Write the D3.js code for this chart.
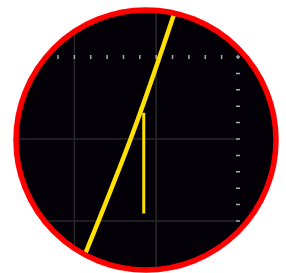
<!DOCTYPE html>
<html>
<head>
<meta charset="utf-8">
<script src="https://cdn.jsdelivr.net/npm/d3@7"></script>
<style>
	body{margin:0;background:#fff;}
	svg{display:block;}
</style>
</head>
<body>
<div id="scope"></div>
<script>
(function(){
	var w = 286, h = 273;

	// 目盛り (division units)
	var xTicks = [0,1,2,3,4,5,6,7,8,9,10,11];
	var yTicks = [0,1,2,3,4,5,6,7,8,9,10];
	var xGrid = [1,6];
	var yGrid = [0,5];

	// trace
	var traceX = [7.32, 4.55, 1.46];
	var traceY = [13.3, 5.3, -2.5];

	// marker line
	var markerX = [5.24, 5.24];
	var markerY = [0.45, 6.6];

	var x = d3.scaleLinear().domain([0,11]).range([58,238]);
	var y = d3.scaleLinear().domain([0,10]).range([221,57]);

	var cx = 146, cy = 140, r = 130;

	var svg = d3.select("#scope")
				.append("svg")
				.attr("width", w)
				.attr("height", h);

	svg.append("clipPath")
		.attr("id", "clip")
		.append("circle")
		.attr("cx", cx)
		.attr("cy", cy)
		.attr("r", r-1);

	svg.append("circle")
		.attr("cx", cx)
		.attr("cy", cy)
		.attr("r", r)
		.attr("fill", "#040008");

	var g = svg.append("g").attr("clip-path", "url(#clip)");

	// grid
	g.selectAll(".vgrid")
		.data(xGrid)
		.enter()
		.append("line")
		.attr("x1", function(d){ return x(d); })
		.attr("x2", function(d){ return x(d); })
		.attr("y1", 0)
		.attr("y2", h)
		.attr("stroke", "#29272b")
		.attr("stroke-width", 1.5);

	g.selectAll(".hgrid")
		.data(yGrid)
		.enter()
		.append("line")
		.attr("x1", 0)
		.attr("x2", x(11))
		.attr("y1", function(d){ return y(d); })
		.attr("y2", function(d){ return y(d); })
		.attr("stroke", "#29272b")
		.attr("stroke-width", 1.5);

	// ticks
	g.selectAll(".xtick")
		.data(xTicks)
		.enter()
		.append("line")
		.attr("x1", function(d){ return x(d); })
		.attr("x2", function(d){ return x(d); })
		.attr("y1", y(10)-2)
		.attr("y2", y(10)+2)
		.attr("stroke", "#a8a8ae")
		.attr("stroke-width", 1.5);

	g.selectAll(".ytick")
		.data(yTicks)
		.enter()
		.append("line")
		.attr("x1", x(11)-2)
		.attr("x2", x(11)+2)
		.attr("y1", function(d){ return y(d); })
		.attr("y2", function(d){ return y(d); })
		.attr("stroke", "#a8a8ae")
		.attr("stroke-width", 1.5);

	var line = d3.line()
				.x(function(d){ return x(d[0]); })
				.y(function(d){ return y(d[1]); })
				.curve(d3.curveMonotoneY);

	g.append("path")
		.datum(d3.zip(traceX, traceY))
		.attr("d", line)
		.attr("fill", "none")
		.attr("stroke", "#ffe100")
		.attr("stroke-width", 4.5);

	g.append("path")
		.datum(d3.zip(markerX, markerY))
		.attr("d", d3.line().x(function(d){ return x(d[0]); }).y(function(d){ return y(d[1]); }))
		.attr("fill", "none")
		.attr("stroke", "#ffe100")
		.attr("stroke-width", 3);

	// 枠
	svg.append("circle")
		.attr("cx", cx)
		.attr("cy", cy)
		.attr("r", r)
		.attr("fill", "none")
		.attr("stroke", "#ff0000")
		.attr("stroke-width", 5.5);
})();
</script>
</body>
</html>
